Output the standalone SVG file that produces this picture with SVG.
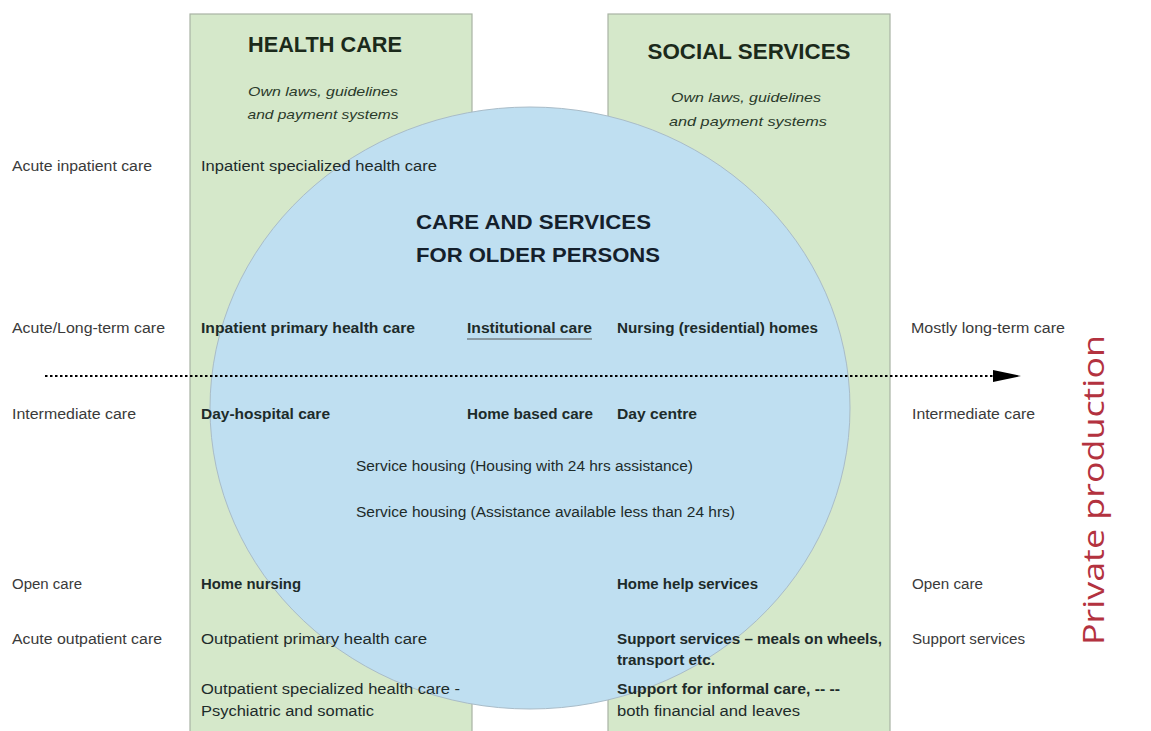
<svg xmlns="http://www.w3.org/2000/svg" width="1151" height="731" viewBox="0 0 1151 731">
<style>
.panel{fill:#d5e8ca;stroke:#a9b3a4;stroke-width:1.2}
.hdr{font-family:"Liberation Sans",Arial,sans-serif;font-weight:bold;font-size:21.5px;fill:#1b2a1b}
.it{font-family:"Liberation Sans",Arial,sans-serif;font-style:italic;font-size:13.5px;fill:#2a3a2a}
.lab{font-family:"Liberation Sans",Arial,sans-serif;font-size:14px;fill:#3a3a3a}
.in{font-family:"Liberation Sans",Arial,sans-serif;font-size:14px;fill:#1d2b2a}
.b{font-weight:bold}
.big{font-family:"Liberation Sans",Arial,sans-serif;font-weight:bold;font-size:21px;fill:#14202c}
.pp{font-family:"Open Sans","Liberation Sans",sans-serif;font-size:29px;fill:#b3323f}
</style>
<defs>
<marker id="ah" markerWidth="28" markerHeight="14" refX="27" refY="7" orient="auto" markerUnits="userSpaceOnUse">
<path d="M0,1 L28,7 L0,13 Z" fill="#000"/>
</marker>
</defs>
<rect width="1151" height="731" fill="#ffffff"/>
<g id="health-care">
<rect class="panel" x="190" y="14" width="282" height="730"/>
</g>
<g id="social-services">
<rect class="panel" x="608" y="14" width="282" height="730"/>
</g>
<g id="care-older-persons">
<ellipse cx="530" cy="408" rx="320" ry="301" fill="#bfdff1" stroke="#a9bcc8" stroke-width="1"/>
</g>
<g id="headers">
<text class="hdr" x="325" y="52" text-anchor="middle" textLength="154" lengthAdjust="spacingAndGlyphs">HEALTH CARE</text>
<text class="it" x="323" y="96" text-anchor="middle" textLength="150" lengthAdjust="spacingAndGlyphs">Own laws, guidelines</text>
<text class="it" x="323" y="119" text-anchor="middle" textLength="151" lengthAdjust="spacingAndGlyphs">and payment systems</text>
<text class="hdr" x="749" y="59" text-anchor="middle" textLength="203" lengthAdjust="spacingAndGlyphs">SOCIAL SERVICES</text>
<text class="it" x="746" y="102" text-anchor="middle" textLength="150" lengthAdjust="spacingAndGlyphs">Own laws, guidelines</text>
<text class="it" x="748" y="126" text-anchor="middle" textLength="158" lengthAdjust="spacingAndGlyphs">and payment systems</text>
<text class="big" x="416" y="229" textLength="235" lengthAdjust="spacingAndGlyphs">CARE AND SERVICES</text>
<text class="big" x="416" y="262" textLength="244" lengthAdjust="spacingAndGlyphs">FOR OLDER PERSONS</text>
</g>
<g id="connectors">
<line x1="45" y1="376" x2="1020" y2="376" stroke="#000" stroke-width="2" stroke-dasharray="2.5,2.5" marker-end="url(#ah)"/>
<line x1="467" y1="339" x2="592" y2="339" stroke="#555" stroke-width="1"/>
</g>
<g id="row-labels">
<text class="lab" x="12" y="171" textLength="140" lengthAdjust="spacingAndGlyphs">Acute inpatient care</text>
<text class="in" x="201" y="171" textLength="236" lengthAdjust="spacingAndGlyphs">Inpatient specialized health care</text>

<text class="lab" x="12" y="333" textLength="153" lengthAdjust="spacingAndGlyphs">Acute/Long-term care</text>
<text class="in b" x="201" y="333" textLength="214" lengthAdjust="spacingAndGlyphs">Inpatient primary health care</text>
<text class="in b" x="467" y="333" textLength="125" lengthAdjust="spacingAndGlyphs">Institutional care</text>
<text class="in b" x="617" y="333" textLength="201" lengthAdjust="spacingAndGlyphs">Nursing (residential) homes</text>
<text class="lab" x="911" y="333" textLength="154" lengthAdjust="spacingAndGlyphs">Mostly long-term care</text>

<text class="lab" x="12" y="419" textLength="124" lengthAdjust="spacingAndGlyphs">Intermediate care</text>
<text class="in b" x="201" y="419" textLength="129" lengthAdjust="spacingAndGlyphs">Day-hospital care</text>
<text class="in b" x="467" y="419" textLength="126" lengthAdjust="spacingAndGlyphs">Home based care</text>
<text class="in b" x="617" y="419" textLength="80" lengthAdjust="spacingAndGlyphs">Day centre</text>
<text class="lab" x="912" y="419" textLength="123" lengthAdjust="spacingAndGlyphs">Intermediate care</text>

<text class="in" x="356" y="471" textLength="337" lengthAdjust="spacingAndGlyphs">Service housing (Housing with 24 hrs assistance)</text>
<text class="in" x="356" y="517" textLength="379" lengthAdjust="spacingAndGlyphs">Service housing (Assistance available less than 24 hrs)</text>

<text class="lab" x="12" y="589" textLength="70" lengthAdjust="spacingAndGlyphs">Open care</text>
<text class="in b" x="201" y="589" textLength="100" lengthAdjust="spacingAndGlyphs">Home nursing</text>
<text class="in b" x="617" y="589" textLength="141" lengthAdjust="spacingAndGlyphs">Home help services</text>
<text class="lab" x="912" y="589" textLength="71" lengthAdjust="spacingAndGlyphs">Open care</text>

<text class="lab" x="12" y="644" textLength="150" lengthAdjust="spacingAndGlyphs">Acute outpatient care</text>
<text class="in" x="201" y="644" textLength="226" lengthAdjust="spacingAndGlyphs">Outpatient primary health care</text>
<text class="in b" x="617" y="644" textLength="265" lengthAdjust="spacingAndGlyphs">Support services – meals on wheels,</text>
<text class="in b" x="617" y="665" textLength="98" lengthAdjust="spacingAndGlyphs">transport etc.</text>
<text class="lab" x="912" y="644" textLength="113" lengthAdjust="spacingAndGlyphs">Support services</text>

<text class="in" x="201" y="694" textLength="259" lengthAdjust="spacingAndGlyphs">Outpatient specialized health care -</text>
<text class="in" x="201" y="716" textLength="173" lengthAdjust="spacingAndGlyphs">Psychiatric and somatic</text>
<text class="in b" x="617" y="694" textLength="223" lengthAdjust="spacingAndGlyphs">Support for informal care, -- --</text>
<text class="in" x="617" y="716" textLength="183" lengthAdjust="spacingAndGlyphs">both financial and leaves</text>
</g>
<g id="private-production">
<text class="pp" transform="translate(1104,490) rotate(-90)" text-anchor="middle" textLength="310" lengthAdjust="spacingAndGlyphs">Private production</text>
</g>
</svg>
